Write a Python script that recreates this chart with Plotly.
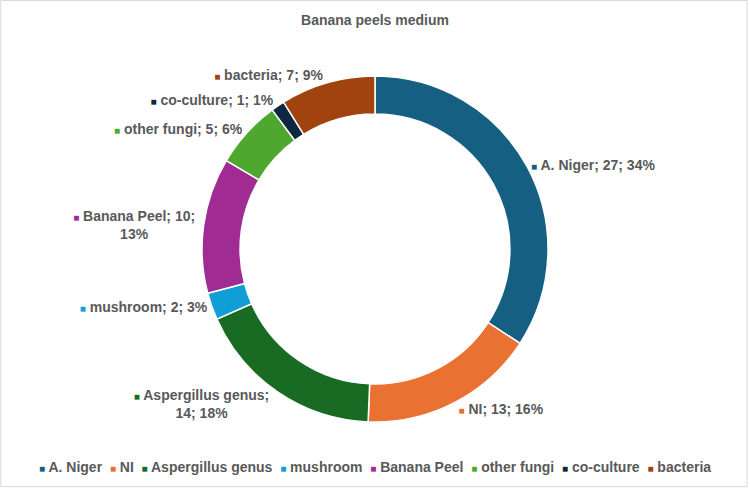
import plotly.graph_objects as go

categories = ["A. Niger", "NI", "Aspergillus genus", "mushroom", "Banana Peel",
              "other fungi", "co-culture", "bacteria"]
values = [27, 13, 14, 2, 10, 5, 1, 7]
colors = ["#156082", "#E97132", "#196B24", "#0F9ED5", "#A02B93",
          "#4EA72E", "#0E2841", "#A0430F"]
# label text as shown (line breaks where the reference wraps)
label_fmt = ["{c}; {v}; {p}%", "{c}; {v}; {p}%", "{c};<br>{v}; {p}%", "{c}; {v}; {p}%",
             "{c}; {v};<br>{p}%", "{c}; {v}; {p}%", "{c}; {v}; {p}%", "{c}; {v}; {p}%"]

FONT = "Liberation Sans, Arial, sans-serif"
GREY = "#595959"


def square(col):
    return f"<span style='color:{col};font-size:10px'>■</span>"


total = sum(values)
texts = []
for c, v, col, f in zip(categories, values, colors, label_fmt):
    p = round(100 * v / total)
    texts.append(square(col) + " " + f.format(c=c, v=v, p=p))

legend_text = "  ".join(square(col) + " " + c for c, col in zip(categories, colors))

fig = go.Figure(go.Pie(
    labels=categories,
    values=values,
    text=texts,
    textinfo="text",
    textposition="outside",
    automargin=False,
    hole=0.78,
    sort=False,
    direction="clockwise",
    rotation=0,
    marker=dict(colors=colors, line=dict(color="white", width=1.5)),
    textfont=dict(family=FONT, size=14, color=GREY, weight="bold"),
    hoverinfo="skip",
    showlegend=False,
    domain=dict(x=[0, 1], y=[0.1405, 0.8452]),
))

fig.update_layout(
    width=750, height=491,
    margin=dict(l=0, r=0, t=0, b=0, autoexpand=False),
    paper_bgcolor="white",
    font=dict(family=FONT, size=14, color=GREY),
    title=dict(text="<b>Banana peels medium</b>", x=0.5, xanchor="center",
               y=0.96, yanchor="middle", yref="container",
               font=dict(size=14, color=GREY)),
    showlegend=False,
    annotations=[dict(text="<b>" + legend_text + "</b>", xref="paper", yref="paper",
                      x=0.5, y=0.049, xanchor="center", yanchor="middle",
                      showarrow=False, font=dict(size=14, color=GREY, family=FONT))],
    shapes=[dict(type="rect", xref="paper", yref="paper", x0=0.001, x1=0.996, y0=0.009, y1=0.999,
                 line=dict(color="#D9D9D9", width=1))],
)

fig.write_html("out.html")
